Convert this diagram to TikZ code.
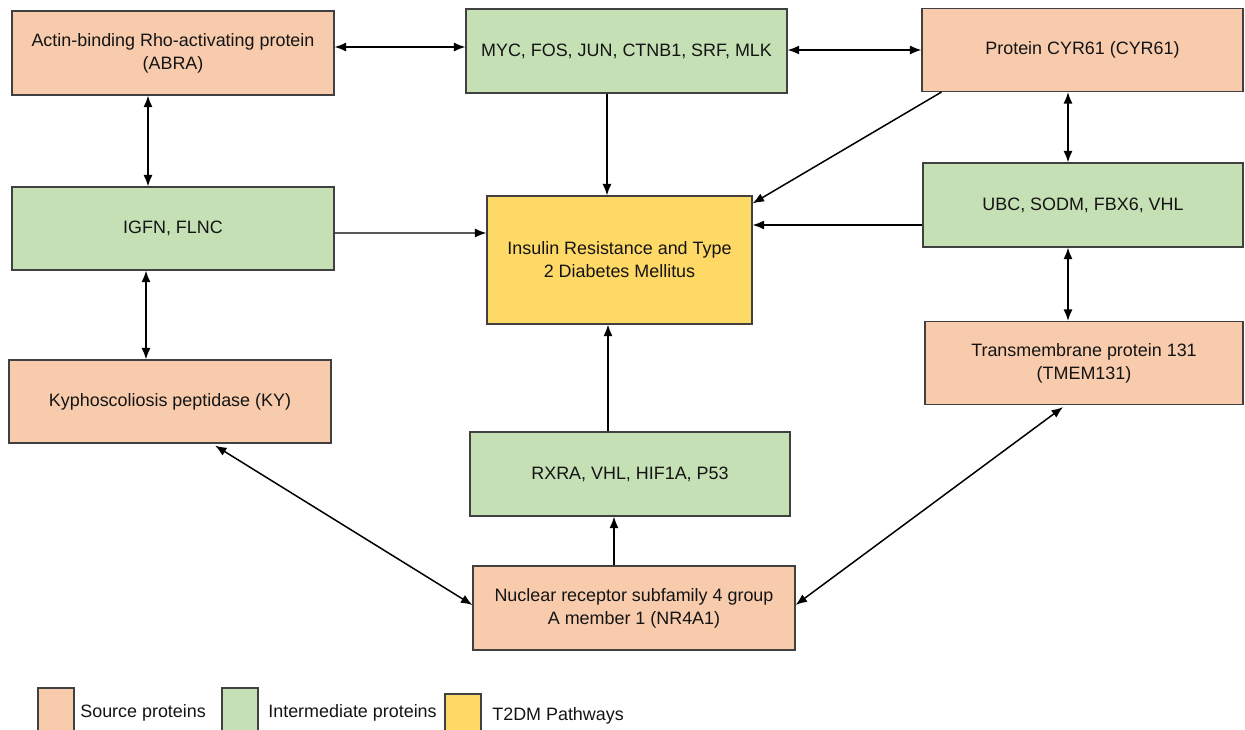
\documentclass[tikz,border=0pt]{standalone}
\usepackage{fontspec}
\setmainfont{Liberation Sans}
\usetikzlibrary{arrows.meta,calc}
\definecolor{srcc}{HTML}{F8CBAD}
\definecolor{intc}{HTML}{C5E0B4}
\definecolor{t2dc}{HTML}{FFD966}
\definecolor{edgec}{HTML}{404040}
\definecolor{txtc}{HTML}{141414}
\begin{document}
\begin{tikzpicture}[x=0.02cm,y=-0.02cm,
  box/.style 2 args={draw=edgec, line width=0.65pt, minimum width=#1*0.02cm, minimum height=#2*0.02cm,
     inner sep=2pt, align=center, text=txtc, font=\fontsize{10.2}{13}\selectfont},
  src/.style={fill=srcc}, inter/.style={fill=intc}, t2d/.style={fill=t2dc},
  arr/.style={line width=0.85pt, -{Latex[length=2.3mm,width=1.8mm]}},
  darr/.style={line width=0.85pt, {Latex[length=2.3mm,width=1.8mm]}-{Latex[length=2.3mm,width=1.8mm]}},
  legtxt/.style={anchor=west, inner sep=0pt, text=txtc, font=\fontsize{10.2}{13}\selectfont}]
\useasboundingbox (0,0) rectangle (1245,730);
\fill[white] (0,0) rectangle (1245,730);

\node[box={322}{84}, src] (abra) at (173,53) {\raisebox{-3pt}{\parbox{6cm}{\centering Actin-binding Rho-activating protein\\(ABRA)}}};
\node[box={321}{84}, inter] (myc) at (626.5,51) {\raisebox{-3pt}{MYC, FOS, JUN, CTNB1, SRF, MLK}};
\node[box={321}{83}, src] (cyr) at (1082.5,50) {Protein CYR61 (CYR61)};
\node[box={322}{83}, inter] (igfn) at (173,228.5) {\raisebox{-2pt}{IGFN, FLNC}};
\node[box={265}{128}, t2d] (ir) at (619.5,260) {Insulin Resistance and Type\\2 Diabetes Mellitus};
\node[box={320}{84}, inter] (ubc) at (1083,205) {UBC, SODM, FBX6, VHL};
\node[box={318}{83}, src] (tmem) at (1084,363) {Transmembrane protein 131\\(TMEM131)};
\node[box={322}{83}, src] (ky) at (170,401.5) {\raisebox{-3pt}{Kyphoscoliosis peptidase (KY)}};
\node[box={320}{84}, inter] (rxra) at (630,474) {RXRA, VHL, HIF1A, P53};
\node[box={322}{84}, src] (nr) at (634,608) {Nuclear receptor subfamily 4 group\\A member 1 (NR4A1)};

\draw[darr] ($(abra.east)+(0,-6)$) -- ($(myc.west)+(0,-4)$);
\draw[darr] ($(myc.east)+(0,-1)$) -- (cyr.west);
\draw[arr] ($(myc.south)+(-19.5,0)$) -- ($(ir.north)+(-12.5,0)$);
\draw[arr] ($(cyr.south west)+(20,0)$) -- ($(ir.north east)+(0,8)$);
\draw[darr] ($(abra.south)+(-25,0)$) -- ($(igfn.north)+(-25,0)$);
\draw[arr] ($(igfn.east)+(0,4.5)$) -- ($(ir.west)+(0,-27)$);
\draw[arr] ($(ubc.west)+(0,20)$) -- ($(ir.east)+(0,-35)$);
\draw[darr] ($(cyr.south)+(-14.5,0)$) -- ($(ubc.north)+(-15,0)$);
\draw[darr] ($(ubc.south)+(-15,0)$) -- ($(tmem.north)+(-16,0)$);
\draw[darr] ($(igfn.south)+(-27,0)$) -- ($(ky.north)+(-24,0)$);
\draw[arr] ($(rxra.north)+(-22,0)$) -- ($(ir.south)+(-11.5,0)$);
\draw[arr] ($(nr.north)+(-20,0)$) -- ($(rxra.south)+(-16,0)$);
\draw[darr] ($(ky.south)+(45,2)$) -- ($(nr.west)+(0,-3)$);
\draw[darr] ($(tmem.south)+(-21,2)$) -- ($(nr.east)+(0,-3)$);

% legend
\node[draw=edgec, line width=0.65pt, fill=srcc, minimum width=36*0.02cm, minimum height=44*0.02cm, inner sep=0pt] (lsrc) at (56,710) {};
\node[legtxt] (lsrct) at (80,713) {Source proteins};
\node[draw=edgec, line width=0.65pt, fill=intc, minimum width=36*0.02cm, minimum height=44*0.02cm, inner sep=0pt] (lint) at (240,710) {};
\node[legtxt] (lintt) at (268,713) {Intermediate proteins};
\node[draw=edgec, line width=0.65pt, fill=t2dc, minimum width=36*0.02cm, minimum height=38*0.02cm, inner sep=0pt] (lt2d) at (463,713) {};
\node[legtxt] (lt2dt) at (492,716) {T2DM Pathways};
\end{tikzpicture}
\end{document}
